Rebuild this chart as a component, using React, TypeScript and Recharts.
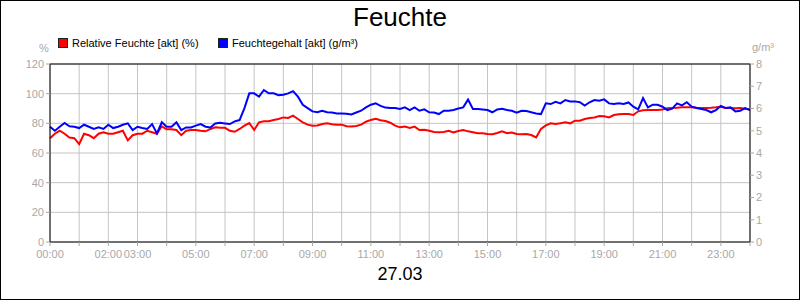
import React from "react"
import { LineChart, Line, XAxis, YAxis, CartesianGrid, ReferenceLine } from "recharts"

// Messwerte alle 10 Minuten, 00:00 bis 24:00
const relFeuchte = [
  70, 73, 75, 73, 70.5, 70, 66, 73, 72, 70, 73, 74, 73, 73, 74, 75, 68.5, 72, 73, 73,
  75, 74, 73, 78, 76, 76, 75.5, 72, 75, 75.5, 75.5, 75, 74.6, 76.2, 77.3, 77, 77, 75, 74.3,
  76.2, 78.4, 80.2, 75.5, 80.7, 81.4, 81.4, 82.3, 82.9, 84, 83.6, 85.2, 82.9, 80.7, 79.1,
  78.4, 78.6, 79.6, 80, 79.4, 79.1, 79.1, 78, 77.8, 78.2, 79.1, 81.1, 82.3, 83.1, 82.1,
  81.6, 80.4, 78.4, 77.3, 77.8, 76.9, 77.8, 75.5, 75.7, 75, 74.2, 74, 74.2, 75, 73.8, 74.8,
  75.5, 74.6, 74, 73.3, 73.3, 72.8, 72.6, 73.5, 74.6, 73.3, 73.8, 72.8, 72.6, 72.8, 72.1,
  70.5, 76.2, 78.6, 80, 79.6, 80, 80.7, 80, 81.8, 81.8, 82.9, 83.6, 84, 84.9, 84.7, 84,
  85.6, 86.1, 86.3, 86.3, 85.6, 88.1, 88.8, 89, 89, 89, 89.4, 90.1, 90.3, 90.5, 90.8, 90.8,
  90.8, 90.5, 90.3, 90.3, 90.5, 90.8, 91.2, 90.3, 90.3, 90.1, 90.3, 89.9, 89.4,
]

const feuchtegehalt = [
  5.18, 5.0, 5.18, 5.35, 5.2, 5.18, 5.12, 5.27, 5.18, 5.08, 5.15, 5.08, 5.27, 5.12, 5.18,
  5.27, 5.33, 5.03, 5.18, 5.12, 5.08, 5.3, 4.88, 5.38, 5.18, 5.18, 5.38, 5.03, 5.15, 5.15,
  5.23, 5.3, 5.18, 5.15, 5.33, 5.36, 5.33, 5.3, 5.42, 5.48, 6.02, 6.68, 6.68, 6.53, 6.83,
  6.68, 6.68, 6.6, 6.62, 6.68, 6.78, 6.53, 6.17, 6.02, 5.87, 5.83, 5.9, 5.83, 5.82, 5.78,
  5.78, 5.76, 5.73, 5.82, 5.9, 6.05, 6.17, 6.23, 6.12, 6.04, 6.02, 6.02, 5.98, 6.05, 5.93,
  6.05, 5.9, 5.96, 5.83, 5.82, 5.75, 5.9, 5.9, 5.93, 6.0, 6.05, 6.4, 5.98, 5.98, 5.96,
  5.93, 5.83, 5.96, 5.99, 5.93, 5.9, 5.81, 5.9, 5.89, 5.83, 5.78, 5.75, 6.23, 6.2, 6.3,
  6.23, 6.38, 6.32, 6.32, 6.28, 6.13, 6.28, 6.38, 6.35, 6.41, 6.23, 6.2, 6.23, 6.2, 6.27,
  6.08, 5.96, 6.47, 6.05, 6.17, 6.17, 6.08, 5.93, 5.99, 6.23, 6.14, 6.28, 6.08, 6.02, 5.98,
  5.93, 5.83, 5.93, 6.12, 6.02, 6.05, 5.87, 5.9, 6.02, 5.93,
]

const hourTicks = [0, 1, 2, 3, 4, 5, 6, 7, 8, 9, 10, 11, 12, 13, 14, 15, 16, 17, 18, 19, 20, 21, 22, 23, 24]
const hourLabels = [
  "00:00", "", "02:00", "03:00", "", "05:00", "", "07:00", "", "09:00", "", "11:00", "",
  "13:00", "", "15:00", "", "17:00", "", "19:00", "", "21:00", "", "23:00", "",
]
const leftTicks = [0, 20, 40, 60, 80, 100, 120]
const rightTicks = [0, 1, 2, 3, 4, 5, 6, 7, 8]

const data = relFeuchte.map((rf, i) => ({ t: i / 6, rf, fg: feuchtegehalt[i] }))

const grey = "#a8a8a8"
const tickStyle = { fontSize: 11, fill: grey }

const LegendBox = ({ color }: { color: string }) => (
  <span style={{ display: "inline-block", width: 8, height: 8, background: color, border: "1px solid #222", marginRight: 4, verticalAlign: "-1px" }} />
)

export default function App() {
  return (
    <div style={{ position: "relative", width: 800, height: 300, fontFamily: "'Liberation Sans', Arial, sans-serif", background: "#fff" }}>
      <style>{"body{margin:0}"}</style>
      <LineChart width={800} height={300} data={data} margin={{ top: 64, right: 0, bottom: 28, left: 0 }}>
        <CartesianGrid yAxisId="l" stroke="#c4c4c4" strokeWidth={1} />
        <XAxis
          dataKey="t" type="number" domain={[0, 24]} ticks={hourTicks} interval={0}
          tickFormatter={(v: number) => hourLabels[v]} height={30}
          axisLine={{ stroke: "#000" }} tickLine={{ stroke: grey }} tickSize={4} tickMargin={4} tick={tickStyle}
        />
        <YAxis
          yAxisId="l" domain={[0, 120]} ticks={leftTicks} width={50} interval={0}
          axisLine={{ stroke: "#000" }} tickLine={{ stroke: grey }} tickSize={4} tickMargin={2} tick={tickStyle}
        />
        <YAxis
          yAxisId="r" orientation="right" domain={[0, 8]} ticks={rightTicks} width={50} interval={0}
          axisLine={{ stroke: "#000" }} tickLine={{ stroke: grey }} tickSize={4} tickMargin={2} tick={tickStyle}
        />
        <ReferenceLine yAxisId="l" y={120} stroke="#000" />
        <Line yAxisId="l" dataKey="rf" stroke="#ff0000" strokeWidth={2} dot={false} type="linear" isAnimationActive={false} />
        <Line yAxisId="r" dataKey="fg" stroke="#0000ff" strokeWidth={2} dot={false} type="linear" isAnimationActive={false} />
      </LineChart>

      <div style={{ position: "absolute", left: 0, top: 2, width: 800, textAlign: "center", fontSize: 26, color: "#000" }}>Feuchte</div>
      <div style={{ position: "absolute", left: 58, top: 37, fontSize: 11, color: "#000", whiteSpace: "nowrap" }}>
        <LegendBox color="#ff0000" />Relative Feuchte [akt] (%)
      </div>
      <div style={{ position: "absolute", left: 218, top: 37, fontSize: 11, color: "#000", whiteSpace: "nowrap" }}>
        <LegendBox color="#0000ff" />Feuchtegehalt [akt] (g/m³)
      </div>
      <div style={{ position: "absolute", left: 39, top: 42, fontSize: 11, color: grey }}>%</div>
      <div style={{ position: "absolute", left: 752, top: 41, fontSize: 11, color: grey }}>g/m³</div>
      <div style={{ position: "absolute", left: 0, top: 264, width: 800, textAlign: "center", fontSize: 18, color: "#000" }}>27.03</div>
      <div style={{ position: "absolute", left: 0, top: 0, width: 800, height: 300, boxSizing: "border-box", border: "1px solid #000", pointerEvents: "none" }} />
    </div>
  )
}
